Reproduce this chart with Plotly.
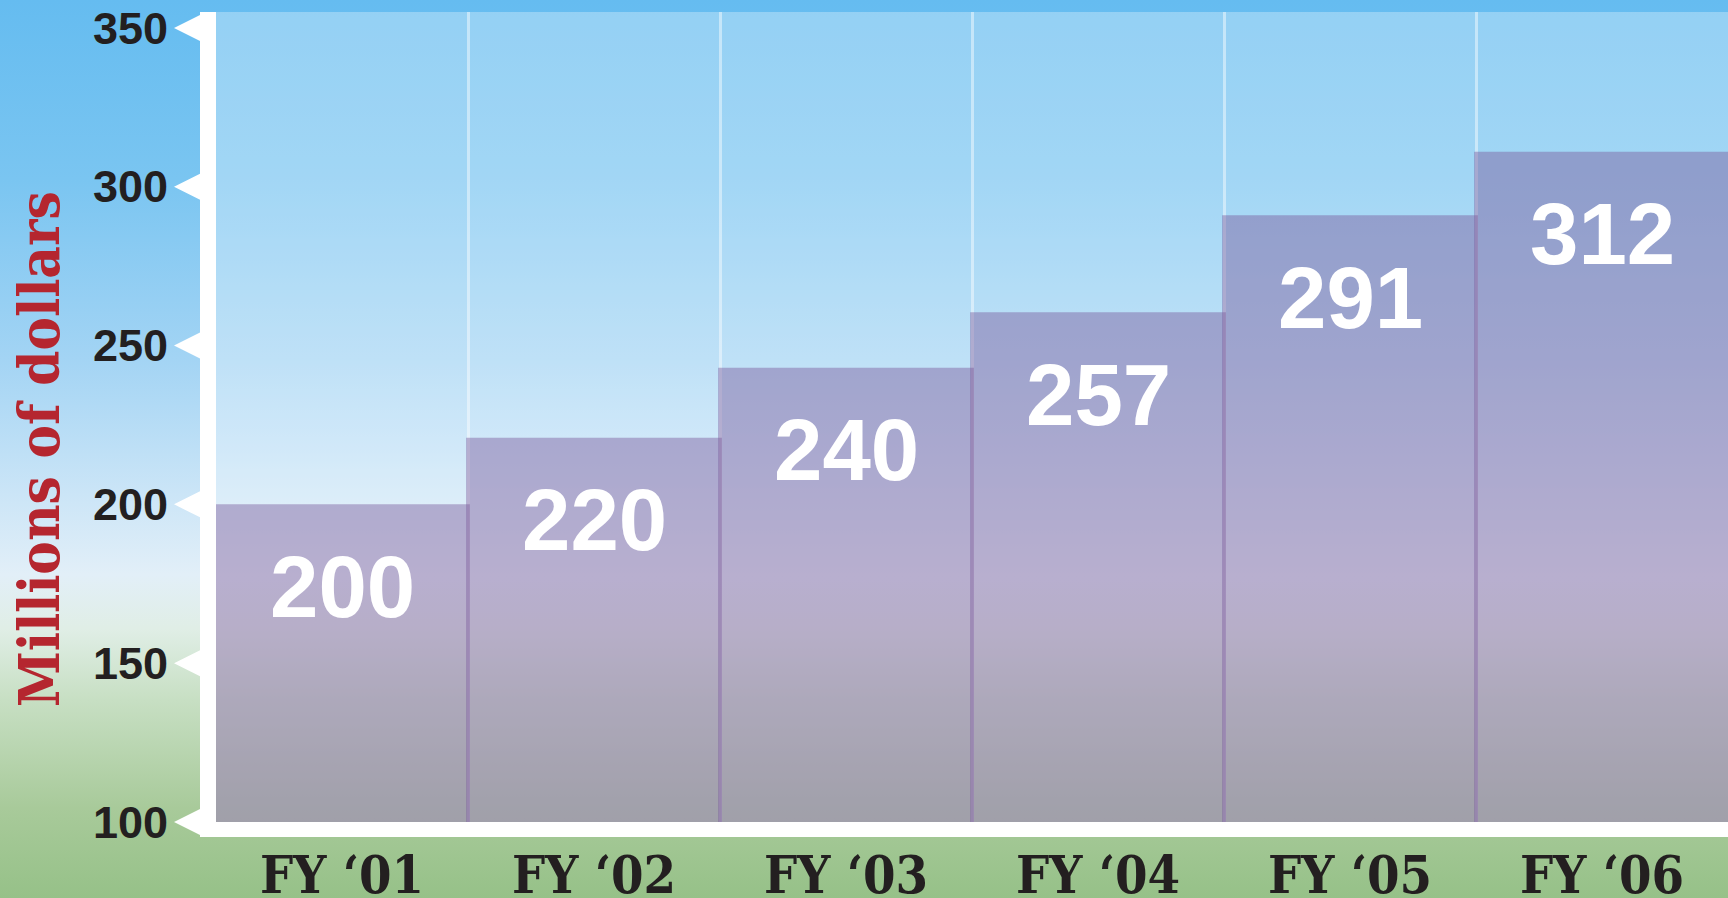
import base64
import plotly.graph_objects as go

# ---- data ----
categories = ["FY \u201801", "FY \u201802", "FY \u201803", "FY \u201804", "FY \u201805", "FY \u201806"]
values = [200, 221, 243, 260.5, 291, 311]          # bar heights as drawn in the picture
value_labels = ["200", "220", "240", "257", "291", "312"]
y_ticks = [100, 150, 200, 250, 300, 350]
y_tick_labels = ["100", "150", "200", "250", "300", "350"]
y_title = "Millions of dollars"

W, H = 1728, 898


def svg_uri(svg):
    return "data:image/svg+xml;base64," + base64.b64encode(svg.encode()).decode()


# background gradient (sky -> white -> grass)
stops = [(0.0, "#65bcf0"), (0.2, "#7ac5f1"), (0.4, "#a3d4f4"), (0.55, "#cbe5f7"),
         (0.64, "#e2eff8"), (0.70, "#e0eee6"), (0.78, "#c7dfc3"), (0.9, "#a8ca9a"),
         (1.0, "#96c188")]
stop_xml = "".join(f"<stop offset='{o}' stop-color='{c}'/>" for o, c in stops)
bg_src = svg_uri(
    f"<svg xmlns='http://www.w3.org/2000/svg' width='{W}' height='{H}' "
    f"viewBox='0 0 {W} {H}' preserveAspectRatio='none'>"
    f"<defs><linearGradient id='g' x1='0' y1='0' x2='0' y2='1'>{stop_xml}</linearGradient></defs>"
    f"<rect x='0' y='0' width='{W}' height='{H}' fill='url(#g)'/></svg>")
veil_src = svg_uri(
    "<svg xmlns='http://www.w3.org/2000/svg' width='100' height='100' viewBox='0 0 100 100' "
    "preserveAspectRatio='none'><rect x='0' y='0' width='100' height='100' "
    "fill='#ffffff' fill-opacity='0.3'/></svg>")

plot_left = 216
plot_top = 12
plot_bottom = 822
x0, y_lo, y_hi = plot_left / W, (H - plot_bottom) / H, (H - plot_top) / H

fig = go.Figure()

fig.add_trace(go.Bar(
    x=categories, y=values, width=1.015,
    marker=dict(color="rgba(122,92,156,0.45)", line=dict(width=0)),
    hoverinfo="skip", showlegend=False,
))

# white triangular tick markers on the y axis (tip at x=174 px, base on the axis bar)
fig.add_trace(go.Scatter(
    x=[174] * len(y_ticks), y=y_ticks, xaxis="x2", yaxis="y",
    mode="markers", cliponaxis=False,
    marker=dict(symbol="arrow-left", size=26, color="white", line=dict(width=0)),
    hoverinfo="skip", showlegend=False,
))

for cat, v, lab in zip(categories, values, value_labels):
    fig.add_annotation(
        x=cat, y=v, xref="x", yref="y", yshift=-82, showarrow=False,
        text=lab, xanchor="center", yanchor="middle",
        font=dict(family="Liberation Sans, Arial, sans-serif", size=87, color="white", weight=700),
    )

fig.add_annotation(
    x=39 / W, y=1 - 449 / H, xref="paper", yref="paper", showarrow=False,
    text=y_title, textangle=-90, xanchor="center", yanchor="middle",
    font=dict(family="DejaVu Serif Condensed, DejaVu Serif, serif", size=56, color="#b5262f", weight=700),
)

fig.update_layout(
    width=W, height=H,
    margin=dict(l=0, r=0, t=0, b=0, pad=0),
    paper_bgcolor="rgba(0,0,0,0)",
    plot_bgcolor="rgba(0,0,0,0)",
    barmode="overlay",
    images=[
        dict(source=bg_src, xref="paper", yref="paper", x=0, y=1, sizex=1, sizey=1,
             xanchor="left", yanchor="top", sizing="stretch", layer="below"),
        dict(source=veil_src, xref="paper", yref="paper", x=x0, y=y_hi, sizex=1 - x0,
             sizey=y_hi - y_lo, xanchor="left", yanchor="top", sizing="stretch", layer="below"),
    ],
    xaxis=dict(
        type="category", domain=[x0, 1], range=[-0.5, 5.5],
        tickson="boundaries", showgrid=True, gridcolor="rgba(255,255,255,0.45)", gridwidth=3,
        showline=True, linecolor="white", linewidth=15,
        ticks="", ticklabelstandoff=-6,
        tickfont=dict(family="DejaVu Serif Condensed, DejaVu Serif, serif", size=52, color="#231f20", weight=700),
        zeroline=False, automargin=False, fixedrange=True,
    ),
    xaxis2=dict(domain=[0, x0], range=[0, plot_left], anchor="y", visible=False, fixedrange=True),
    yaxis=dict(
        domain=[y_lo, y_hi], range=[100, 355],
        tickvals=y_ticks, ticktext=y_tick_labels,
        showgrid=False, zeroline=False,
        showline=True, linecolor="white", linewidth=16,
        ticks="", ticklabelstandoff=23,
        tickfont=dict(family="Liberation Sans, Arial, sans-serif", size=45, color="#231f20", weight=700),
        automargin=False, fixedrange=True,
    ),
)

fig.write_html("out.html", config={"displayModeBar": False},
               post_script="document.body.style.margin='0';document.body.style.overflow='hidden';")
